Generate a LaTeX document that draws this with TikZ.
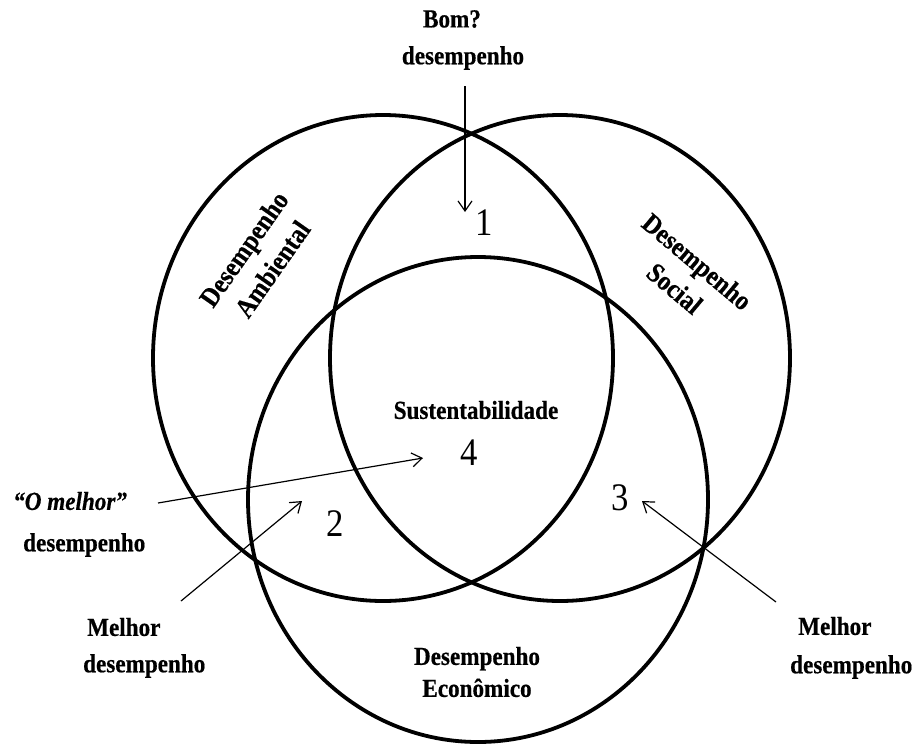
\documentclass[tikz,border=0pt]{standalone}
\usepackage{fontspec}
\setmainfont{Liberation Serif}[FakeStretch=0.89, BoldFeatures={FakeBold=0.5}, BoldItalicFeatures={FakeBold=0.5}]
\usetikzlibrary{arrows.meta}
\begin{document}
\begin{tikzpicture}[x=1pt,y=-1pt,
  ring/.style={line width=3.8pt},
  arr/.style={line width=1.2pt,-{Straight Barb[length=10pt,width=14pt]}},
  lbl/.style={font=\fontsize{26}{33}\selectfont\bfseries, inner sep=0pt, align=center},
  tilted/.style={lbl, font=\fontsize{27.5}{35}\selectfont\bfseries},
  num/.style={font=\fontsize{39}{39}\selectfont, inner sep=0pt}]
\fill[white] (0,0) rectangle (915,745);
\useasboundingbox (0,0) rectangle (915,745);

% the three performance sets
\draw[ring] (383,358) ellipse [x radius=230, y radius=243];
\draw[ring] (560,358) ellipse [x radius=230, y radius=243];
\draw[ring] (478,499.5) ellipse [x radius=230, y radius=242.5];

% set names
\node[tilted, rotate=55] (amb) at (258,259) {Desempenho\\Ambiental};
\node[tilted, rotate=-40] (soc) at (686,275) {Desempenho\\Social};
\node[lbl, font=\fontsize{26}{32}\selectfont\bfseries] (eco) at (477,672) {Desempenho\\Econômico};
\node[lbl] (sust) at (476,410) {Sustentabilidade};

% region numbers
\node[num] (n1) at (484,223) {1};
\node[num] (n2) at (335,524) {2};
\node[num] (n3) at (620,498) {3};
\node[num] (n4) at (469,453) {4};

% outside labels
\node[lbl] (bom) at (452,19) {Bom?};
\node[lbl] (bomd) at (463,58) {desempenho};
\node[lbl, anchor=west] (om) at (13,501) {\itshape “O melhor”};
\node[lbl, anchor=west] (omd) at (23,545) {desempenho};
\node[lbl, anchor=west] (ml) at (87,627) {Melhor};
\node[lbl, anchor=west] (mld) at (83,666) {desempenho};
\node[lbl, anchor=west] (mr) at (798,626) {Melhor};
\node[lbl, anchor=west] (mrd) at (790,667) {desempenho};

% pointers
\coordinate (p1s) at (465,86);  \coordinate (p1e) at (465,212);
\coordinate (p4s) at (158,503); \coordinate (p4e) at (423,458);
\coordinate (p2s) at (181,601); \coordinate (p2e) at (302,501);
\coordinate (p3s) at (776,602); \coordinate (p3e) at (642,501);
\draw[arr] (p1s) -- (p1e);
\draw[arr] (p4s) -- (p4e);
\draw[arr] (p2s) -- (p2e);
\draw[arr] (p3s) -- (p3e);
\end{tikzpicture}
\end{document}
